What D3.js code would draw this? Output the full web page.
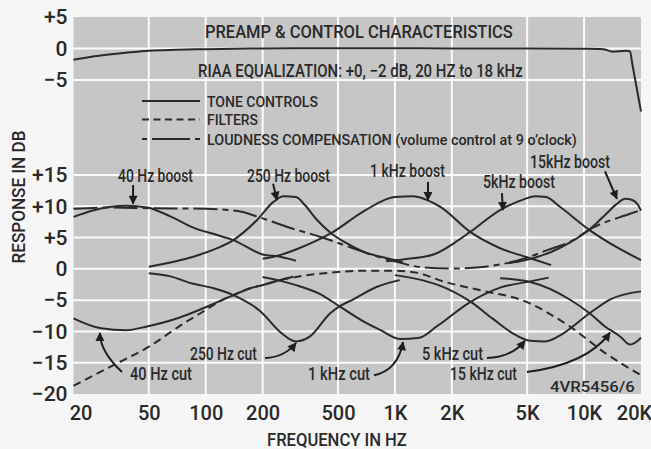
<!DOCTYPE html>
<html>
<head>
<meta charset="utf-8">
<script src="https://cdn.jsdelivr.net/npm/d3@7"></script>
<style>
  html, body { margin: 0; padding: 0; background: #f6f6f6; }
  svg { display: block; }
  text { fill: #2a2a2a; font-family: Roboto, "Liberation Sans", Arial, sans-serif; font-weight: 500; }
</style>
</head>
<body>
<svg id="chart" width="651" height="449"></svg>
<script>
// ---- axis ticks -------------------------------------------------------
const freqTicks = [20, 50, 100, 200, 500, 1000, 2000, 5000, 10000, 20000];
const freqLabels = ["20", "50", "100", "200", "500", "1K", "2K", "5K", "10K", "20K"];
const riaaTicks = [5, 0, -5];
const toneTicks = [15, 10, 5, 0, -5, -10, -15, -20];

// ---- responses, [frequency Hz, dB] -----------------------------------
const riaa = [[20,-1.8],[25,-1.3],[30,-1.0],[40,-0.6],[50,-0.35],[70,-0.2],[100,-0.1],[200,0],[500,0.05],[1000,0.05],[2000,0],[5000,0],[10000,-0.05],[12600,-0.1],[14200,-0.5],[16800,-0.35],[17500,-0.45],[18000,-2.5],[20000,-10]];

const boost40 = [[20,8.3],[25,9.3],[31,9.9],[38,10.1],[49,9.8],[65,8.4],[86,6.6],[115,5.4],[140,4.6],[200,2.3],[240,2.0],[300,1.3]];
const cut40 = [[20,-7.9],[28,-9.5],[38,-9.8],[49,-9.2],[71,-7.9],[97,-6.3],[140,-4.2],[172,-3.1],[200,-2.6],[240,-1.9],[290,-1.25]];
const boost250 = [[50,0.35],[85,1.9],[115,3.3],[140,4.6],[188,7.9],[228,10.7],[258,11.6],[300,11.5],[334,10.2],[388,7.8],[460,5.7],[555,4.1],[686,2.7],[905,1.7],[1100,1.1]];
const cut250 = [[50,-0.7],[65,-1.2],[84,-2.3],[110,-3.1],[140,-4.2],[195,-6.8],[250,-10.2],[300,-11.6],[356,-10.8],[455,-7.1],[510,-6.0],[600,-4.9],[800,-2.9],[1060,-1.8]];
const boost1k = [[200,1.6],[240,2.1],[300,3.1],[460,5.7],[700,9.4],[1000,11.5],[1250,11.6],[1450,11.1],[1740,9.9],[2500,5.9],[3600,3.3],[5200,1.7],[6700,0.6]];
const cut1k = [[200,-1.3],[240,-1.8],[300,-2.6],[400,-4.0],[510,-6.0],[700,-8.6],[840,-9.8],[1070,-11.2],[1350,-11.0],[1680,-9.1],[2500,-5.3],[3600,-3.0],[5200,-2.0],[6500,-1.4]];
const boost5k = [[900,1.2],[1100,1.5],[1600,2.3],[2100,4.3],[2500,5.9],[3600,9.4],[4800,11.1],[5500,11.6],[6300,11.5],[7400,10.0],[10700,6.2],[14800,3.5],[20000,1.4]];
const cut5k = [[1000,-1.0],[1300,-1.6],[1700,-2.6],[2500,-5.2],[3300,-8.0],[4200,-10.3],[5200,-11.5],[6200,-11.6],[7400,-10.7],[10700,-7.1],[13700,-4.9],[20000,-3.6]];
const boost15k = [[4000,0.9],[4600,1.2],[6700,2.7],[8400,4.2],[10700,6.3],[13000,8.7],[14800,10.3],[16500,11.2],[18000,11.0],[19300,10.2],[20000,9.3]];
const cut15k = [[3600,-1.5],[5200,-2.1],[8400,-4.9],[10700,-7.1],[12900,-9.2],[15500,-10.8],[17500,-12.1],[19000,-11.6],[20000,-11.0]];

const filters = [[20,-18.7],[32,-15.5],[51,-12.3],[73,-9.1],[101,-6.5],[120,-5.1],[140,-4.2],[172,-3.1],[200,-2.6],[240,-1.9],[300,-1.3],[455,-0.6],[700,-0.3],[1000,-0.3],[1300,-0.6],[1800,-2.0],[3000,-3.6],[4600,-4.9],[8400,-9.2],[13000,-13.5],[20000,-17.0]];
const loudness = [[20,9.6],[30,9.8],[50,9.7],[100,9.6],[150,9.2],[190,8.3],[270,6.7],[405,5.1],[600,3.3],[800,2.0],[1060,1.0],[1350,0.3],[2000,0.05],[2900,0.3],[4900,1.7],[6400,3.0],[8400,4.3],[11000,6.5],[17500,8.8],[20000,9.4]];

const toneCurves = [boost40, cut40, boost250, cut250, boost1k, cut1k, boost5k, cut5k, boost15k, cut15k];

// ---- annotations: label text, then arrow path in [Hz, dB] -------------
const callouts = [
  { text: "40 Hz boost",  arrow: [[41.3,13.4],[41.3,10.4]] },
  { text: "250 Hz boost", arrow: [[227,13.6],[238,11.0]] },
  { text: "1 kHz boost",  arrow: [[1496,13.9],[1496,11.0]] },
  { text: "5kHz boost",   arrow: [[3680,12.1],[3724,9.4]] },
  { text: "15kHz boost",  arrow: [[12894,15.6],[14916,11.2]] },
  { text: "40 Hz cut",    arrow: [[36.1,-16.5],[27.6,-13.2],[27.6,-10.25]] },
  { text: "250 Hz cut",   arrow: [[206,-14.25],[262,-14.1],[300,-11.85]] },
  { text: "1 kHz cut",    arrow: [[775,-17.0],[1038,-16.2],[1103,-11.7]] },
  { text: "5 kHz cut",    arrow: [[3066,-14.25],[4156,-14.1],[4868,-11.5]] },
  { text: "15 kHz cut",   arrow: [[4988,-16.5],[10480,-15.2],[13697,-10.2]] }
];
// label placement (x, baseline, width) in the same order
const calloutLayout = [
  [118,182,75],[247,182,83],[370,177,75],[483,188,72],[530,168,80],
  [130,380,62],[190,360,67],[308,380,62],[422,360,61],[450,380,67]
];

// ---- scales ------------------------------------------------------------
const svg = d3.select("#chart");
const x = d3.scaleLog().domain([20, 20000]).range([73.5, 641]);
const yT = d3.scaleLinear().domain([-5, 5]).range([80, 17]);     // RIAA band
const yB = d3.scaleLinear().domain([-20, 15]).range([394, 175]); // tone controls
const signFmt = d => d > 0 ? "+" + d : d < 0 ? "\u2212" + Math.abs(d) : "0";
const ink = "#2a2a2a";

// condensed label: natural text squeezed horizontally to the given width
function txt(g, str, px, py, size, width, anchor) {
  const t = g.append("text").attr("font-size", size).text(str);
  const w = t.node().getComputedTextLength();
  const sx = width / w;
  const ox = anchor === "middle" ? px - width / 2 : anchor === "end" ? px - width : px;
  t.attr("transform", `translate(${ox},${py}) scale(${sx},1)`);
  return t;
}

// ---- plot background and grid -------------------------------------------
svg.append("rect")
  .attr("x", x(20)).attr("y", yT(5))
  .attr("width", x(20000) - x(20)).attr("height", yB(-20) - yT(5))
  .attr("fill", "#c6c6c6");

const grid = svg.append("g").attr("stroke", "#fbfbfb").attr("stroke-width", 2);
grid.selectAll("line.v").data(freqTicks.slice(1, -1)).join("line")
  .attr("x1", d => x(d)).attr("x2", d => x(d))
  .attr("y1", yT(5)).attr("y2", yB(-20));
grid.selectAll("line.t").data(riaaTicks.slice(1)).join("line")
  .attr("x1", x(20)).attr("x2", x(20000))
  .attr("y1", d => yT(d)).attr("y2", d => yT(d));
grid.selectAll("line.b").data(toneTicks.slice(0, -1)).join("line")
  .attr("x1", x(20)).attr("x2", x(20000))
  .attr("y1", d => yB(d)).attr("y2", d => yB(d));

// ---- axes ----------------------------------------------------------------
function styleAxis(g, size) {
  g.select(".domain").remove();
  g.selectAll(".tick line").remove();
  g.selectAll("text").attr("font-size", size).attr("fill", "#2a2a2a")
    .attr("font-family", null).attr("font-weight", 500);
  g.attr("font-family", null);
}
svg.append("g").attr("transform", `translate(${x(20)},0)`)
  .call(d3.axisLeft(yT).tickValues(riaaTicks).tickFormat(signFmt).tickSize(0).tickPadding(6))
  .call(g => styleAxis(g, 21));
svg.append("g").attr("transform", `translate(${x(20)},0)`)
  .call(d3.axisLeft(yB).tickValues(toneTicks).tickFormat(signFmt).tickSize(0).tickPadding(6))
  .call(g => styleAxis(g, 21));
const xAxis = svg.append("g").attr("transform", `translate(0,${yB(-20)})`)
  .call(d3.axisBottom(x).tickValues(freqTicks).tickFormat((d, i) => freqLabels[i]).tickSize(0).tickPadding(12))
  .call(g => styleAxis(g, 20));
xAxis.selectAll(".tick text").attr("dx", (d, i) => i === 0 ? 7 : i === freqTicks.length - 1 ? -7 : 0);

txt(svg, "FREQUENCY IN HZ", 337, 446, 19, 140, "middle");
const yTitle = svg.append("g").attr("transform", "translate(25,197) rotate(-90)");
txt(yTitle, "RESPONSE IN DB", 0, 0, 19, 133, "middle");

// ---- titles and legend ------------------------------------------------
txt(svg, "PREAMP & CONTROL CHARACTERISTICS", 205, 38, 19, 308);
txt(svg, "RIAA EQUALIZATION: +0, \u22122 dB, 20 HZ to 18 kHz", 198, 76.5, 18, 325);

const legendRows = [
  { label: "TONE CONTROLS", dash: null, w: 111 },
  { label: "FILTERS", dash: "7,4.5", w: 51 },
  { label: "LOUDNESS COMPENSATION (volume control at 9 o\u2019clock)", dash: "5,5,38,5,5", w: 370 }
];
const legend = svg.append("g");
legendRows.forEach((r, i) => {
  const ly = [101, 119.5, 139][i];
  legend.append("line").attr("x1", 142).attr("x2", 200).attr("y1", ly).attr("y2", ly)
    .attr("stroke", ink).attr("stroke-width", 2).attr("stroke-dasharray", r.dash);
  txt(legend, r.label, 207, ly + 5.5, 15.5, r.w);
});

// ---- curves ------------------------------------------------------------
const lineB = d3.line().x(d => x(d[0])).y(d => yB(d[1])).curve(d3.curveMonotoneX);
const lineT = d3.line().x(d => x(d[0])).y(d => yT(d[1])).curve(d3.curveMonotoneX);
const curves = svg.append("g").attr("fill", "none").attr("stroke", ink)
  .attr("stroke-width", 2).attr("stroke-linejoin", "round");

curves.append("path").attr("d", lineT(riaa));
curves.selectAll("path.tone").data(toneCurves).join("path").attr("class", "tone").attr("d", lineB);
curves.append("path").attr("d", lineB(filters)).attr("stroke-dasharray", "8,5");
curves.append("path").attr("d", lineB(loudness)).attr("stroke-dasharray", "24,5,6,5");

// ---- callouts ------------------------------------------------------------
svg.append("defs").append("marker")
  .attr("id", "head").attr("viewBox", "0 0 10 10").attr("refX", 9).attr("refY", 5)
  .attr("markerWidth", 10).attr("markerHeight", 9).attr("markerUnits", "userSpaceOnUse")
  .attr("orient", "auto")
  .append("path").attr("d", "M0,0 L10,5 L0,10 Z").attr("fill", "#1e1e1e");

const notes = svg.append("g");
callouts.forEach((c, i) => {
  const [lx, ly, lw] = calloutLayout[i];
  txt(notes, c.text, lx, ly, 18, lw);
  const p = c.arrow.map(d => [x(d[0]), yB(d[1])]);
  const d = p.length === 2
    ? `M${p[0][0]},${p[0][1]}L${p[1][0]},${p[1][1]}`
    : `M${p[0][0]},${p[0][1]}Q${p[1][0]},${p[1][1]} ${p[2][0]},${p[2][1]}`;
  notes.append("path").attr("d", d).attr("fill", "none").attr("stroke", "#1e1e1e")
    .attr("stroke-width", 2).attr("marker-end", "url(#head)");
});

txt(svg, "4VR5456/6", 550, 392, 15, 85);
</script>
</body>
</html>
